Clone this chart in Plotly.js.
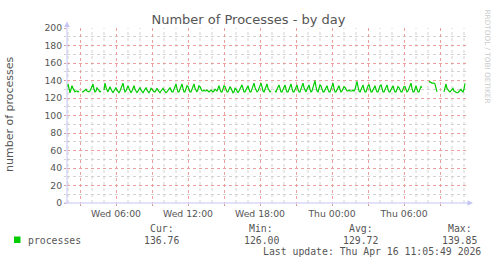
<!DOCTYPE html>
<html>
<head>
<meta charset="utf-8">
<script src="https://cdn.plot.ly/plotly-3.0.1.min.js"></script>
<style>html,body{margin:0;padding:0;background:#fff;}#chart{width:497px;height:264px;}</style>
</head>
<body>
<div id="chart"></div>
<script>
// ---- data (5-minute samples, starting Wed 2026-04-15 01:55) ----
const startTime = "2026-04-15T01:55:00";
const stepMinutes = 5;
const processes = [
133,136,131,126,130,134,131,128,127,128,128,127,128,null,null,127,127,128,129,130,
128,127,127,128,131,135,136,130,127,128,132,130,128,127,128,null,null,129,137,132,
128,127,130,133,130,127,126,128,130,132,129,127,126,128,132,136,137,131,127,128,
131,134,131,127,126,128,131,134,130,127,126,128,130,132,129,127,126,128,130,132,
129,127,126,128,131,130,128,127,127,129,131,129,127,126,128,130,131,129,127,126,
127,129,131,132,129,127,127,130,134,136,131,127,127,131,134,136,131,127,127,130,
134,133,129,127,127,130,134,136,131,128,127,130,134,133,129,128,128,129,128,128,
129,128,127,128,129,128,127,128,130,129,128,131,134,130,127,127,130,134,133,129,
127,127,130,133,131,128,126,127,131,130,127,126,128,131,134,135,131,127,127,130,
133,134,130,127,127,130,134,137,132,128,127,128,131,134,137,133,128,127,130,134,
136,131,128,127,128,null,null,null,128,127,130,134,135,131,127,127,130,134,135,130,
127,127,131,135,136,131,127,127,130,134,135,130,127,127,131,135,137,132,128,127,
130,134,135,130,127,128,132,137,139.85,133,128,127,131,135,134,129,127,127,130,133,
134,130,127,127,131,136,137,131,127,127,130,133,134,130,127,128,131,133,132,129,
128,128,129,128,128,128,129,128,130,136,139,133,128,127,130,134,135,130,127,127,
131,134,135,130,127,127,130,133,134,130,127,127,131,134,135,130,127,127,130,134,
135,130,127,127,130,133,134,130,127,127,130,133,132,128,127,127,130,133,133,129,
127,128,132,136,137,131,127,127,131,134,130,127,127,130,133,132,null,null,null,null,
null,null,139,138,137,137,137,137,136,131,127,null,null,null,null,null,null,127,132,136,
131,129,128,127,128,130,131,128,127,126,126,126,127,129,130,128,127,130,136.76
];
const majorTickTimes = ["2026-04-15T03:00:00","2026-04-15T06:00:00","2026-04-15T09:00:00","2026-04-15T12:00:00",
  "2026-04-15T15:00:00","2026-04-15T18:00:00","2026-04-15T21:00:00","2026-04-16T00:00:00",
  "2026-04-16T03:00:00","2026-04-16T06:00:00","2026-04-16T09:00:00"];
const majorTickLabels = ["","Wed 06:00","","Wed 12:00","","Wed 18:00","","Thu 00:00","","Thu 06:00",""];
const legendStats = {cur:"136.76", min:"126.00", avg:"129.72", max:"139.85"};
const lastUpdate = "Last update: Thu Apr 16 11:05:49 2026";

function pad(n){return (n<10?"0":"")+n;}
function fmt(d){return d.getFullYear()+"-"+pad(d.getMonth()+1)+"-"+pad(d.getDate())+" "+pad(d.getHours())+":"+pad(d.getMinutes());}
const t0 = new Date(startTime);
const times = processes.map((v,i)=>fmt(new Date(t0.getTime()+i*stepMinutes*60000)));

// layout helpers (pixel -> paper)
const L=67, R=467, T=28, B=203;
const px = x => (x-L)/(R-L);
const py = y => (B-y)/(B-T);
const gray = "#555555";
const mono = "DejaVu Sans Mono, monospace";
const axisCol = "#c4c4f4";
const majorGrid = "#eba0a0", minorGrid = "#d2d2d2";

function lab(text,x,y,opts){
  return Object.assign({text:text,x:px(x),y:py(y),xref:"paper",yref:"paper",showarrow:false,
    xanchor:"left",yanchor:"middle",font:{family:mono,size:9.8,color:gray},borderpad:0},opts||{});
}

// hourly minor vertical grid lines (not on the 3-hour major lines)
const shapes = [];
const hStart = new Date("2026-04-15T02:00:00");
for(let k=0;k<34;k++){
  const d = new Date(hStart.getTime()+k*3600000);
  if(d.getHours()%3===0) continue;
  const s = fmt(d);
  shapes.push({type:"line", xref:"x", yref:"paper", x0:s, x1:s, y0:0, y1:1, layer:"below",
    line:{color:minorGrid, width:1, dash:"dot"}});
}
shapes.push(
  {type:"line", xref:"paper", yref:"paper", x0:0, x1:0, y0:0, y1:py(26), line:{color:axisCol,width:1}},
  {type:"line", xref:"paper", yref:"paper", x0:px(64), x1:px(469), y0:0, y1:0, line:{color:axisCol,width:1}},
  {type:"path", xref:"paper", yref:"paper", path:"M "+px(67)+" "+py(21.5)+" L "+px(64.2)+" "+py(27)+" L "+px(69.8)+" "+py(27)+" Z",
    fillcolor:axisCol, line:{width:0}},
  {type:"path", xref:"paper", yref:"paper", path:"M "+px(473)+" "+py(203)+" L "+px(467.5)+" "+py(200.2)+" L "+px(467.5)+" "+py(205.8)+" Z",
    fillcolor:axisCol, line:{width:0}},
  {type:"rect", xref:"paper", yref:"paper", x0:px(14), x1:px(20.5), y0:py(243), y1:py(236.5), fillcolor:"#00cc00", line:{width:0}}
);

const layout = {
  width:497, height:264, autosize:false,
  margin:{l:L, r:497-R, t:T, b:264-B, pad:0},
  paper_bgcolor:"#ffffff", plot_bgcolor:"#ffffff",
  font:{family:"DejaVu Sans, sans-serif", color:gray, size:9.3},
  showlegend:false,
  title:{text:"Number of Processes - by day", font:{family:"DejaVu Sans, sans-serif", size:13, color:gray},
    xref:"container", x:0.5, xanchor:"center", yref:"container", y:1-19.5/264, yanchor:"middle"},
  xaxis:{type:"date", range:["2026-04-15 01:55","2026-04-16 11:15"], tickmode:"array",
    tickvals:majorTickTimes, ticktext:majorTickLabels, showgrid:true, gridcolor:majorGrid, griddash:"dot", gridwidth:1,
    ticks:"outside", ticklen:2, tickcolor:"#d0a0a0", showline:false, zeroline:false,
    tickfont:{size:9.3,color:gray}, fixedrange:true},
  yaxis:{range:[0,200], dtick:20, tick0:0, showgrid:true, gridcolor:majorGrid, griddash:"dot", gridwidth:1,
    ticks:"outside", ticklen:2, tickcolor:"#d0a0a0", showline:false, zeroline:false,
    tickfont:{size:9.3,color:gray},
    minor:{dtick:10, showgrid:true, gridcolor:minorGrid, griddash:"dot", ticks:"outside", ticklen:2, tickcolor:minorGrid},
    fixedrange:true},
  shapes:shapes,
  annotations:[
    {text:"number of processes", x:px(9), y:py(114), xref:"paper", yref:"paper", showarrow:false, textangle:-90,
      xanchor:"center", yanchor:"middle", font:{family:"DejaVu Sans, sans-serif", size:11, color:gray}},
    {text:"RRDTOOL / TOBI OETIKER", x:px(487.5), y:py(56), xref:"paper", yref:"paper", showarrow:false, textangle:90,
      xanchor:"center", yanchor:"middle", font:{family:"DejaVu Sans, sans-serif", size:7.3, color:"#cccccc"}},
    lab("processes",26.5,240),
    lab("Cur:",149,228), lab(legendStats.cur,143.3,240),
    lab("Min:",248,228), lab(legendStats.min,243.3,240),
    lab("Avg:",348.3,228), lab(legendStats.avg,342.3,240),
    lab("Max:",447.3,228), lab(legendStats.max,441.2,240),
    lab(lastUpdate,261.7,251.5)
  ]
};

const trace = {type:"scatter", mode:"lines", x:times, y:processes, connectgaps:false,
  line:{color:"#00cc00", width:1.2}, hoverinfo:"skip"};

Plotly.newPlot("chart",[trace],layout,{displayModeBar:false, staticPlot:true});
</script>
</body>
</html>
